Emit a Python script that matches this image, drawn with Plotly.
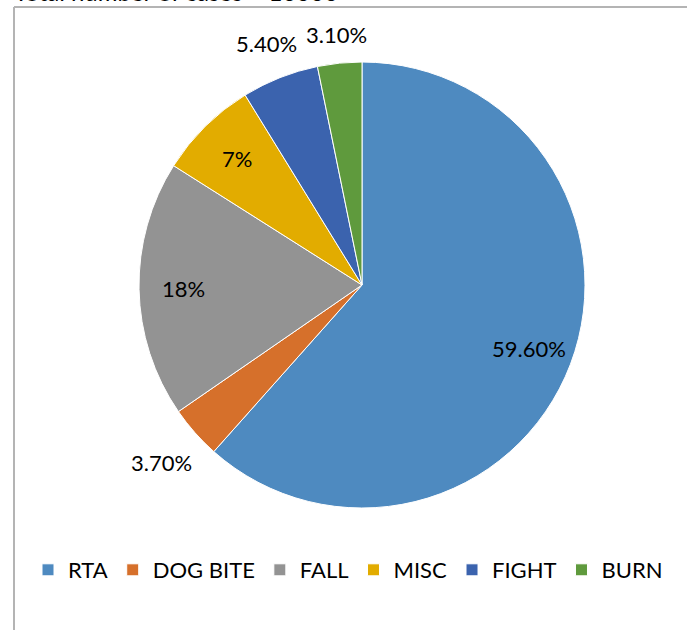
import math
import plotly.graph_objects as go

categories = ["RTA", "DOG BITE", "FALL", "MISC", "FIGHT", "BURN"]
values = [59.6, 3.7, 18, 7, 5.4, 3.1]
value_labels = ["59.60%", "3.70%", "18%", "7%", "5.40%", "3.10%"]
label_inside = [True, False, True, True, False, False]
colors = ["#4E8AC0", "#D6702B", "#939393", "#E2AC00", "#3B63AE", "#5F9A3D"]
title_text = "Total number of cases = 10000"

W, H = 687, 630
cx, cy, r = 362, 285, 223
FS = 22

fig = go.Figure(go.Pie(
    labels=categories,
    values=values,
    text=value_labels,
    textinfo="none",
    marker=dict(colors=colors, line=dict(color="#FFFFFF", width=1)),
    sort=False,
    direction="clockwise",
    rotation=0,
    hoverinfo="label+text",
    domain=dict(x=[(cx - r) / W, (cx + r) / W], y=[1 - (cy + r) / H, 1 - (cy - r) / H]),
))

# data labels placed at each slice's mid-angle (derived from the values)
total = sum(values)
annotations = []
cum = 0.0
for val, txt, inside in zip(values, value_labels, label_inside):
    mid = (cum + val / 2) / total * 2 * math.pi
    cum += val
    dx, dy = math.sin(mid), -math.cos(mid)  # dy: downward in pixels
    if inside:
        dist = 0.8 * r
    else:
        w_est = len(txt) * FS * 0.55
        h_est = FS * 1.1
        dist = r + 14 + abs(dx) * w_est / 2 + abs(dy) * h_est / 2
    px, py = cx + dx * dist, cy + dy * dist
    annotations.append(dict(
        text=txt, xref="paper", yref="paper", x=px / W, y=1 - py / H,
        xanchor="center", yanchor="middle", showarrow=False,
        font=dict(family="Lato", size=FS, color="#000000"),
    ))

annotations.append(dict(
    text=title_text, xref="paper", yref="paper",
    x=12 / W, xanchor="left", y=1, yanchor="bottom", yshift=-8.5,
    showarrow=False, font=dict(family="Lato", size=24, color="#000000"),
))

fig.update_layout(
    width=W, height=H,
    margin=dict(l=0, r=0, t=0, b=0),
    paper_bgcolor="#FFFFFF",
    font=dict(family="Lato", size=FS, color="#000000"),
    showlegend=True,
    legend=dict(
        orientation="h",
        x=28 / W, xanchor="left",
        y=1 - 570 / H, yanchor="middle",
        font=dict(family="Lato", size=FS, color="#000000"),
        traceorder="normal",
    ),
    shapes=[
        dict(type="line", xref="paper", yref="paper",
             x0=14 / W, x1=1.05, y0=1 - 7 / H, y1=1 - 7 / H,
             line=dict(color="#B4B4B4", width=2)),
        dict(type="line", xref="paper", yref="paper",
             x0=14 / W, x1=14 / W, y0=1 - 7 / H, y1=-0.05,
             line=dict(color="#B4B4B4", width=2)),
    ],
    annotations=annotations,
)

fig.write_html("out.html", config={"displayModeBar": False},
               post_script="document.body.style.margin='0px';")
